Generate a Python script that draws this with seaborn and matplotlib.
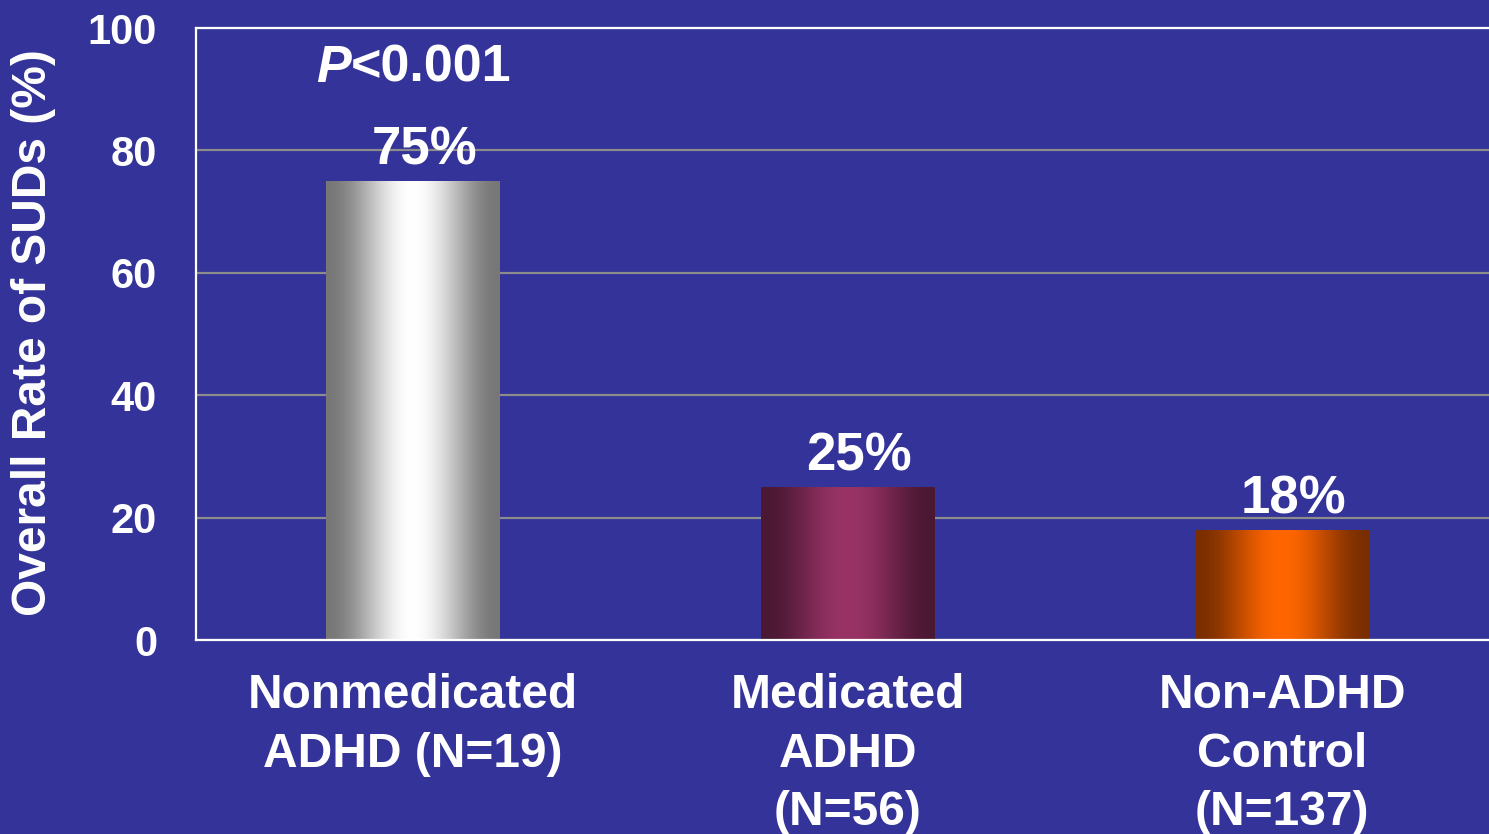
import numpy as np
import pandas as pd
import matplotlib
matplotlib.use("Agg")
import matplotlib.pyplot as plt
from matplotlib.colors import to_rgb
import seaborn as sns

# Data
categories = ["Nonmedicated\nADHD (N=19)", "Medicated\nADHD\n(N=56)", "Non-ADHD\nControl\n(N=137)"]
rates = [75, 25, 18]
value_labels = ["75%", "25%", "18%"]
y_ticks = [0, 20, 40, 60, 80, 100]
p_value_text = "<0.001"

# Bar shading: (edge colour, centre colour) for each bar
bar_dark = ["#777777", "#4a1832", "#7a2e00"]
bar_light = ["#ffffff", "#993366", "#ff6600"]

BG = "#333399"

sns.set_style("white")
plt.rcParams["font.family"] = ["Liberation Sans", "DejaVu Sans"]
plt.rcParams["font.weight"] = "bold"
plt.rcParams["text.color"] = "white"

fig = plt.figure(figsize=(14.89, 8.34), dpi=100, facecolor=BG)
ax = fig.add_axes([196 / 1489, 194 / 834, 1303.5 / 1489, 612 / 834])
ax.set_facecolor(BG)

df = pd.DataFrame({"group": categories, "rate": rates})
sns.barplot(data=df, x="group", y="rate", hue="group", palette=bar_light,
            legend=False, width=0.4, linewidth=0, ax=ax)

ax.set_xlim(-0.5, 2.5)
ax.set_ylim(0, 100)

# Cylinder-style horizontal gradient on every bar
n = 256
t = np.linspace(0, 1, n)
w = np.sin(np.pi * t) ** 2
for patch, dark, light in zip(ax.patches, bar_dark, bar_light):
    x0, y0 = patch.get_x(), patch.get_y()
    bw, bh = patch.get_width(), patch.get_height()
    d, l = np.array(to_rgb(dark)), np.array(to_rgb(light))
    img = (d[None, :] * (1 - w[:, None]) + l[None, :] * w[:, None])[None, :, :]
    im = ax.imshow(img, extent=[x0, x0 + bw, y0, y0 + bh], aspect="auto",
                   interpolation="bilinear", zorder=patch.get_zorder() + 0.1)
    im.set_clip_path(patch)

ax.set_xlim(-0.5, 2.5)
ax.set_ylim(0, 100)

# Value labels above bars
for i, (v, lab) in enumerate(zip(rates, value_labels)):
    ax.annotate(lab, xy=(i, v), xytext=(8, 12), textcoords="offset points",
                ha="center", va="baseline", fontsize=38, fontweight="bold",
                color="white")

# Significance note
p_txt = ax.annotate("P", xy=(0, 91.2), xytext=(-70, 0), textcoords="offset points",
                    ha="left", va="baseline", fontsize=37.5, fontweight="bold",
                    fontstyle="italic", color="white")
ax.annotate(p_value_text, xy=(1, 0), xycoords=p_txt, ha="left", va="bottom",
            fontsize=37.5, fontweight="bold", color="white")

# Axes styling
ax.set_yticks(y_ticks)
ax.yaxis.grid(True, color="#8c8c8c", linewidth=1.6)
ax.xaxis.grid(False)
ax.set_axisbelow(True)
for side in ["left", "bottom", "top"]:
    ax.spines[side].set_visible(True)
    ax.spines[side].set_color("white")
    ax.spines[side].set_linewidth(1.6)
ax.spines["right"].set_visible(False)

ax.tick_params(axis="y", direction="out", length=10, width=1.6, color="white",
               pad=18, labelsize=30, labelcolor="white")
ax.tick_params(axis="x", length=0, pad=24, labelsize=34.5, labelcolor="white")
for lbl in ax.get_yticklabels():
    lbl.set_fontweight("bold")
for lbl in ax.get_xticklabels():
    lbl.set_fontweight("bold")
    lbl.set_linespacing(1.38)

ax.set_xlabel("")
ax.set_ylabel("Overall Rate of SUDs (%)", fontsize=34.5, fontweight="bold",
              color="white", va="center")
ax.yaxis.set_label_coords(-0.1247, 0.503)

fig.savefig("out.png", dpi=100, facecolor=BG)
